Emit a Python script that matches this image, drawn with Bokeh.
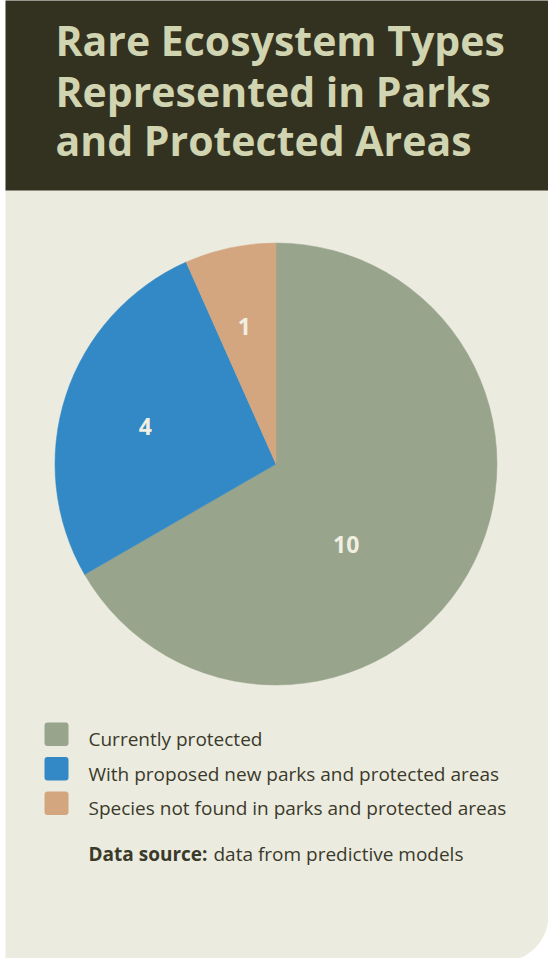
import numpy as np
from bokeh.plotting import figure
from bokeh.models import Range1d, ColumnDataSource
from bokeh.core.properties import value
from bokeh.embed import file_html
from bokeh.resources import INLINE

# ---------------- data ----------------
title_lines = ["Rare Ecosystem Types", "Represented in Parks", "and Protected Areas"]
categories = [
    "Currently protected",
    "With  proposed new parks and protected areas",
    "Species not found in parks and protected areas",
]
counts = [10, 4, 1]
colors = ["#98a48b", "#3389c5", "#d4a67f"]
source_bold = "Data source:"
source_text = "data from predictive models"

# ---------------- layout helpers (screen px -> data) ----------------
W, H = 548, 958


def X(sx):
    return sx - 8


def Y(sy):
    return 966 - sy


p = figure(width=W, height=H, x_range=Range1d(0, W), y_range=Range1d(0, H),
           output_backend="svg", toolbar_location=None,
           x_axis_location=None, y_axis_location=None, min_border=0)
p.grid.visible = False
p.outline_line_color = None
p.background_fill_color = "white"
p.border_fill_color = "white"

# card background with rounded bottom-right corner
left, right, top, bottom, rad = 13, 556, 196, 969, 46
arc = np.linspace(0, np.pi / 2, 30)
cx, cy = right - rad, bottom - rad
xs = [left, right] + list(cx + rad * np.cos(arc)) + [left]
ys = [top, top] + list(cy + rad * np.sin(arc)) + [bottom]
p.patch([X(v) for v in xs], [Y(v) for v in ys], fill_color="#ecebe0", line_color=None)

# title box
p.quad(left=X(13), right=X(556), top=Y(6), bottom=Y(198), fill_color="#33311f", line_color=None)
title_centers = [47.5, 98.5, 147.5]
p.text(x=[X(63)] * 3, y=[Y(b) for b in title_centers], text=title_lines,
       text_font=value("Open Sans"), text_font_style="bold", text_font_size="41px",
       text_color="#d0d4b0", text_baseline="middle", text_align="left")

# pie
pcx, pcy, prad = 283.5, 471.5, 221
total = sum(counts)
cum = np.cumsum([0] + counts)
starts = [np.pi / 2 - 2 * np.pi * cum[i] / total for i in range(len(counts))]
ends = [np.pi / 2 - 2 * np.pi * cum[i + 1] / total for i in range(len(counts))]
src = ColumnDataSource(dict(start=starts, end=ends, color=colors))
p.wedge(x=X(pcx), y=Y(pcy), radius=prad, start_angle="start", end_angle="end",
        direction="clock", fill_color="color", line_color="color", line_width=0.5, source=src)

# slice labels (polar placement)
label_angle_deg = [-49, 164, 103]
label_r = [107, 136, 141]
lx = [X(pcx) + r * np.cos(np.radians(a)) for a, r in zip(label_angle_deg, label_r)]
ly = [Y(pcy) + r * np.sin(np.radians(a)) for a, r in zip(label_angle_deg, label_r)]
p.text(x=lx, y=ly, text=[str(c) for c in counts],
       text_font=value("Open Sans"),
       text_font_style="bold", text_font_size="23px", text_color="#f0efe2",
       text_align="center", text_baseline="middle")

# legend
row_tops = [730 + i * 34.5 for i in range(len(categories))]
p.quad(left=[X(52)] * 3, right=[X(76)] * 3, top=[Y(t) for t in row_tops],
       bottom=[Y(t + 23.5) for t in row_tops], fill_color=colors, line_color=None,
       border_radius=3)
p.text(x=[X(96)] * 3, y=[Y(t + 16.5) for t in row_tops], text=categories,
       text_font=value("Open Sans"), text_font_size="19px", text_color="#3a3a2a",
       text_baseline="middle", text_align="left")

# data source
p.text(x=[X(96)], y=[Y(861)], text=[source_bold], text_font=value("Open Sans"),
       text_font_style="bold", text_font_size="19px", text_color="#3a3a2a",
       text_baseline="middle")
p.text(x=[X(221)], y=[Y(861)], text=[source_text], text_font=value("Open Sans"),
       text_font_size="19px", text_color="#3a3a2a", text_baseline="middle")

open("out.html", "w").write(file_html(p, INLINE))
